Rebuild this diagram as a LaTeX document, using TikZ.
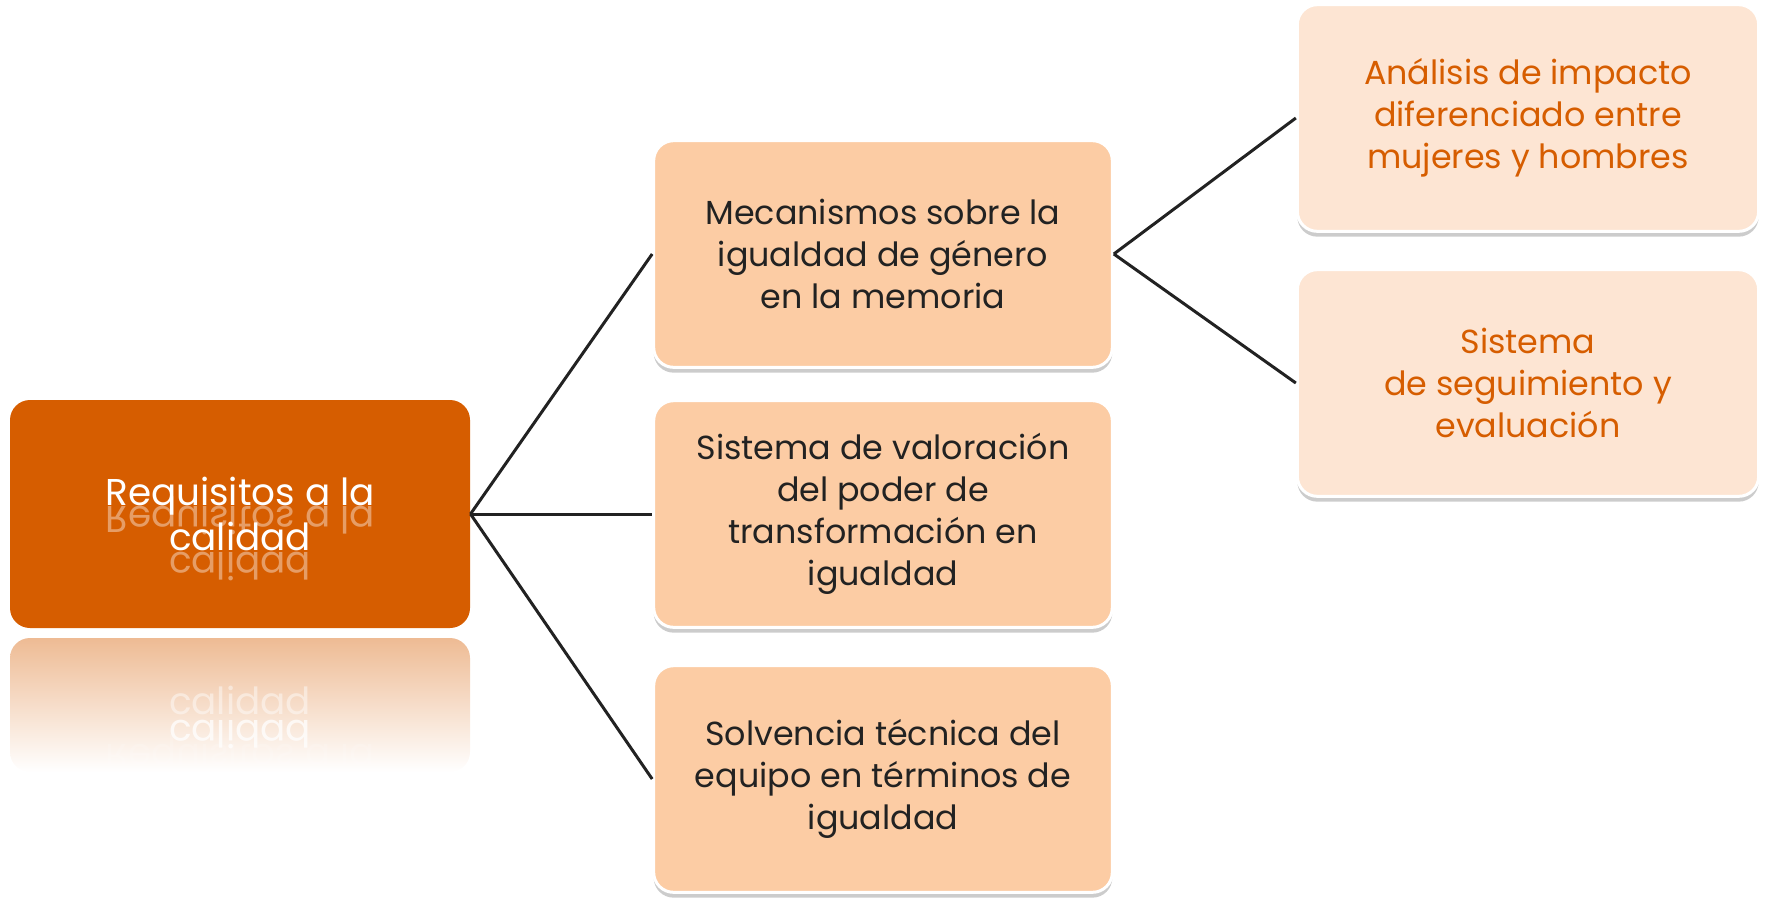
\documentclass[tikz,border=0pt]{standalone}
\usepackage{fontspec}
\setmainfont{Poppins}
\usetikzlibrary{shadows}
\tikzset{every picture/.style={line width=0.75pt}}

\definecolor{rootorange}{RGB}{214,93,0}
\definecolor{midpeach}{RGB}{252,204,164}
\definecolor{sidepeach}{RGB}{253,229,211}
\definecolor{textdark}{RGB}{34,34,34}

\tikzset{
  boxbase/.style={rectangle, rounded corners=15pt, align=center, inner sep=0.75pt},
  rootbox/.style={boxbase, fill=rootorange, text=white, minimum width=345pt, minimum height=171pt,
    font=\fontsize{28}{33.75}\selectfont},
  midbox/.style={boxbase, fill=midpeach, draw=white, line width=2.25pt, text=textdark,
    minimum width=344pt, minimum height=170pt, font=\fontsize{25}{31.5}\selectfont,
    drop shadow={shadow xshift=0pt, shadow yshift=-4pt, opacity=0.4}},
  sidebox/.style={midbox, fill=sidepeach, text=rootorange, minimum width=346pt},
  mirror/.style={anchor=base, yscale=-1, inner sep=0pt, text=white, font=\fontsize{28}{33.75}\selectfont},
  link/.style={draw=textdark, line width=2.25pt}
}

\begin{document}
\begin{tikzpicture}[x=0.75pt,y=0.75pt,yscale=-1,xscale=1]
\useasboundingbox (0,0) rectangle (1767,897);

%Shape: Reflection of the root box
\path [rounded corners=15pt, top color=rootorange!42, bottom color=white] (10,638) rectangle (470,772);

%Shape: Root box
\node [rootbox] (root) at (240,514) {Requisitos a la\\calidad};
% Text reflections
\node [mirror, opacity=0.4] (rootrefa) at (240,506) {Requisitos a la};
\node [mirror, opacity=0.4] (rootrefb) at (240,552) {calidad};
\node [mirror, opacity=0.75] (rootrefc) at (240,720) {calidad};
\node [anchor=base, inner sep=0pt, text=white, opacity=0.45, font=\fontsize{28}{33.75}\selectfont] (rootrefd) at (240,714) {calidad};
\node [mirror, opacity=0.15] (rootrefe) at (240,744) {Requisitos a la};

%Shape: Second level boxes
\node [midbox] (mech) at (883,254) {Mecanismos sobre la\\igualdad de género\\en la memoria};
\node [midbox] (valor) at (883,514) {Sistema de valoración\\del poder de\\transformación en\\igualdad};
\node [midbox] (solv) at (883,779) {Solvencia técnica del\\equipo en términos de\\igualdad};

%Shape: Third level boxes
\node [sidebox] (impact) at (1528,118) {Análisis de impacto\\diferenciado entre\\mujeres y hombres};
\node [sidebox] (segui) at (1528,383) {Sistema\\de seguimiento y\\evaluación};

%Straight Lines
\draw [link] (root.east) -- (mech.west);
\draw [link] (root.east) -- (valor.west);
\draw [link] (root.east) -- (solv.west);
\draw [link] (mech.east) -- (impact.west);
\draw [link] (mech.east) -- (segui.west);

\end{tikzpicture}
\end{document}
